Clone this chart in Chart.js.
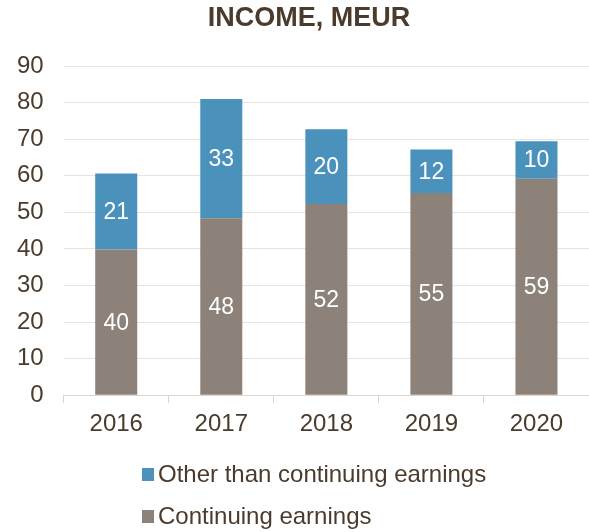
<!DOCTYPE html>
<html>
<head>
<meta charset="utf-8">
<script src="https://cdn.jsdelivr.net/npm/chart.js@4/dist/chart.umd.min.js"></script>
<style>
  html, body { margin: 0; padding: 0; background: #fff; }
  #wrap { width: 589px; height: 532px; position: relative; }
</style>
</head>
<body>
<div id="wrap"><canvas id="incomeChart"></canvas></div>
<script>
  const chartTitle = "INCOME, MEUR";
  const years = ["2016", "2017", "2018", "2019", "2020"];
  // labels show them rounded
  const continuingEarnings = [39.8, 48.4, 52.3, 55.3, 59.2];
  const otherEarnings = [20.8, 32.6, 20.4, 11.9, 10.2];
  const yTicks = [0, 10, 20, 30, 40, 50, 60, 70, 80, 90];

  const textColor = "#4b3b2c";
  const fontFamily = "'Liberation Sans', Arial, sans-serif";

  // title drawn by hand so it can sit slightly right of centre like the original
  const titleText = {
    id: "titleText",
    afterDraw(chart) {
      const ctx = chart.ctx;
      ctx.save();
      ctx.font = "bold 27px " + fontFamily;
      ctx.fillStyle = textColor;
      ctx.textAlign = "center";
      ctx.textBaseline = "middle";
      ctx.fillText(chartTitle, 309, 19);
      ctx.restore();
    },
  };

  // labels inside each bar segment
  const barLabels = {
    id: "barLabels",
    afterDatasetsDraw(chart) {
      const ctx = chart.ctx;
      ctx.save();
      ctx.font = "23px " + fontFamily;
      ctx.fillStyle = "#ffffff";
      ctx.textAlign = "center";
      ctx.textBaseline = "middle";
      chart.data.datasets.forEach((ds, i) => {
        chart.getDatasetMeta(i).data.forEach((bar, j) => {
          ctx.fillText(Math.round(ds.data[j]), bar.x, (bar.y + bar.base) / 2 + 1);
        });
      });
      ctx.restore();
    },
  };

  // vertical legend under the axis
  const stackedLegend = {
    id: "stackedLegend",
    afterDraw(chart) {
      const ctx = chart.ctx;
      const items = chart.data.datasets.slice().reverse();
      ctx.save();
      ctx.font = "24px " + fontFamily;
      ctx.textBaseline = "middle";
      ctx.textAlign = "left";
      items.forEach((ds, i) => {
        const cy = 474.5 + i * 42;
        ctx.fillStyle = ds.backgroundColor;
        ctx.fillRect(142, cy - 6.5, 12, 13);
        ctx.fillStyle = textColor;
        ctx.fillText(ds.label, 158, cy + 1);
      });
      ctx.restore();
    },
  };

  const ctx = document.getElementById("incomeChart").getContext("2d");
  const incomeChart = new Chart(ctx, {
    type: "bar",
    data: {
      labels: years,
      datasets: [
        {
          label: "Continuing earnings",
          data: continuingEarnings,
          backgroundColor: "#8c8279",
          barPercentage: 0.4,
          categoryPercentage: 1,
        },
        {
          label: "Other than continuing earnings",
          data: otherEarnings,
          backgroundColor: "#4a92bb",
          barPercentage: 0.4,
          categoryPercentage: 1,
        },
      ],
    },
    options: {
      responsive: true,
      maintainAspectRatio: false,
      animation: false,
      layout: {
        padding: { left: -3, right: 0, top: 66, bottom: 86 },
      },
      plugins: {
        legend: { display: false },
        tooltip: { enabled: false },
        title: { display: false },
      },
      scales: {
        x: {
          stacked: true,
          grid: {
            display: true,
            drawOnChartArea: false,
            drawTicks: true,
            tickLength: 8,
            color: "#ddd5cc",
          },
          border: { display: true, color: "#ddd5cc" },
          ticks: {
            color: textColor,
            padding: 7,
            font: { family: fontFamily, size: 24 },
          },
        },
        y: {
          stacked: true,
          min: 0,
          max: 90,
          afterBuildTicks(axis) {
            axis.ticks = yTicks.map((v) => ({ value: v }));
          },
          grid: {
            color: "#ebe3db",
            drawTicks: false,
          },
          border: { display: false },
          ticks: {
            color: textColor,
            padding: 20,
            font: { family: fontFamily, size: 24 },
          },
        },
      },
    },
    plugins: [barLabels, stackedLegend, titleText],
  });
</script>
</body>
</html>
